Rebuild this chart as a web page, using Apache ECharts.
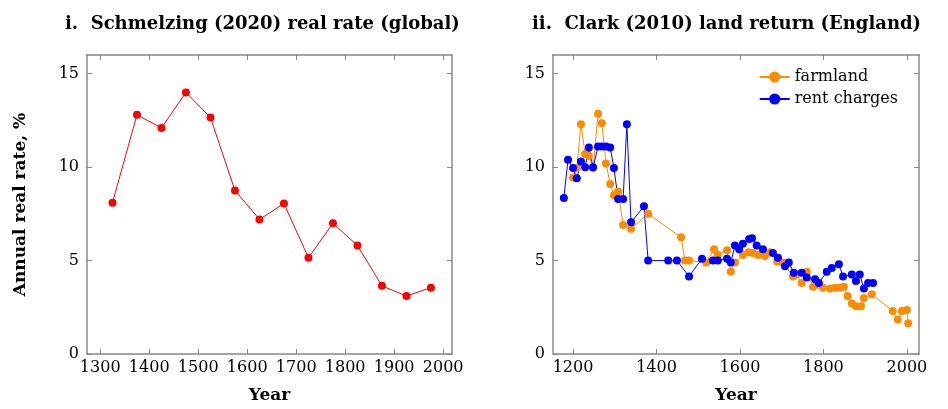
<!DOCTYPE html>
<html><head><meta charset="utf-8">
<script src="https://cdn.jsdelivr.net/npm/echarts@6/dist/echarts.min.js"></script>
<style>html,body{margin:0;padding:0;background:#fff}#c{width:948px;height:409px}</style>
</head><body><div id="c"></div>
<script>
const schYears=[1325,1375,1425,1475,1525,1575,1625,1675,1725,1775,1825,1875,1925,1975];
const schVals=[8.1,12.8,12.1,14.0,12.65,8.75,7.2,8.05,5.15,7.0,5.8,3.65,3.1,3.55];
const farmYears=[1200,1209,1219,1229,1238,1248,1260,1269,1279,1289,1298,1308,1320,1339,1380,1459,1468,1478,1519,1538,1547,1569,1578,1588,1607,1620,1631,1643,1660,1672,1689,1703,1727,1736,1748,1760,1775,1787,1799,1816,1828,1840,1849,1858,1868,1878,1890,1897,1916,1966,1978,1988,2000,2003];
const farmVals=[9.45,9.95,12.3,10.7,10.6,9.95,12.85,12.35,10.2,9.1,8.5,8.7,6.9,6.7,7.5,6.25,5.0,5.0,4.9,5.6,5.3,5.55,4.4,4.9,5.3,5.45,5.4,5.3,5.25,5.45,4.95,4.9,4.15,4.25,3.8,4.4,3.6,3.7,3.55,3.5,3.55,3.55,3.6,3.1,2.7,2.55,2.55,3.0,3.2,2.3,1.85,2.3,2.35,1.65];
const rentYears=[1178,1188,1200,1209,1219,1229,1238,1248,1260,1269,1279,1289,1298,1308,1320,1329,1339,1370,1380,1428,1449,1478,1509,1535,1547,1569,1578,1588,1598,1607,1622,1629,1640,1655,1679,1691,1708,1717,1729,1748,1760,1780,1789,1808,1820,1837,1847,1868,1878,1887,1897,1907,1919];
const rentVals=[8.35,10.4,9.95,9.4,10.3,10.0,11.05,10.0,11.1,11.1,11.1,11.05,9.95,8.3,8.3,12.3,7.05,7.9,5.0,5.0,5.0,4.15,5.1,5.0,5.0,5.1,4.9,5.8,5.6,5.9,6.15,6.2,5.8,5.6,5.4,5.15,4.7,4.9,4.35,4.35,4.1,4.0,3.8,4.4,4.6,4.8,4.15,4.25,3.9,4.25,3.5,3.8,3.8];
const leftTicks=[1300,1400,1500,1600,1700,1800,1900,2000];
const rightTicks=[1200,1400,1600,1800,2000];
const yTicks=[0,5,10,15];
const zip=(a,b)=>a.map((v,i)=>[v,b[i]]);
const F='DejaVu Serif, serif';
const lab={fontFamily:F,fontSize:16,color:'#000',formatter:v=>String(v)};
function xa(gi,min,max,ticks,show){return {type:'value',gridIndex:gi,min,max,position:show?'bottom':'top',
 axisLine:{show:true,onZero:false,lineStyle:{color:'#888',width:1.5}},
 axisTick:{show:true,inside:true,length:5,customValues:ticks,lineStyle:{color:'#888'}},
 axisLabel:{show:show,customValues:ticks,...lab,margin:6},splitLine:{show:false},
 name:show?'Year':'',nameLocation:'middle',nameGap:33,nameTextStyle:{fontFamily:F,fontSize:17,fontWeight:'bold',color:'#000'}};}
function ya(gi,show,name){return {type:'value',gridIndex:gi,min:0,max:16,position:show?'left':'right',
 axisLine:{show:true,onZero:false,lineStyle:{color:'#888',width:1.5}},
 axisTick:{show:true,inside:true,length:5,customValues:yTicks,lineStyle:{color:'#888'}},
 axisLabel:{show:show,customValues:yTicks,...lab,margin:8},splitLine:{show:false},
 name:name||'',nameLocation:'middle',nameGap:58,nameTextStyle:{fontFamily:F,fontSize:17,fontWeight:'bold',color:'#000'}};}
const chart=echarts.init(document.getElementById('c'));
chart.setOption({animation:false,
 title:[{text:'i.  Schmelzing (2020) real rate (global)',left:60,top:10,textStyle:{fontFamily:F,fontSize:18,fontWeight:'bold',color:'#000'}},
        {text:'ii.  Clark (2010) land return (England)',left:527,top:10,textStyle:{fontFamily:F,fontSize:18,fontWeight:'bold',color:'#000'}}],
 grid:[{left:87,top:55,width:365,height:300},{left:553,top:55,width:366,height:300}],
 xAxis:[xa(0,1273,2018,leftTicks,true),xa(0,1273,2018,leftTicks,false),xa(1,1152,2029,rightTicks,true),xa(1,1152,2029,rightTicks,false)],
 yAxis:[ya(0,true,'Annual real rate, %'),ya(0,false),ya(1,true),ya(1,false)],
 legend:{data:['farmland','rent charges'],right:45,top:64,orient:'vertical',itemGap:6,itemWidth:30,textStyle:{fontFamily:F,fontSize:16,color:'#000'}},
 series:[
  {type:'line',xAxisIndex:0,yAxisIndex:0,data:zip(schYears,schVals),color:'#ff0000',symbol:'circle',symbolSize:8,lineStyle:{width:1}},
  {name:'farmland',type:'line',xAxisIndex:2,yAxisIndex:2,data:zip(farmYears,farmVals),color:'#ff8c00',symbol:'circle',symbolSize:8,lineStyle:{width:1}},
  {name:'rent charges',type:'line',xAxisIndex:2,yAxisIndex:2,data:zip(rentYears,rentVals),color:'#0000ff',symbol:'circle',symbolSize:8,lineStyle:{width:1}}
 ]});
</script></body></html>
